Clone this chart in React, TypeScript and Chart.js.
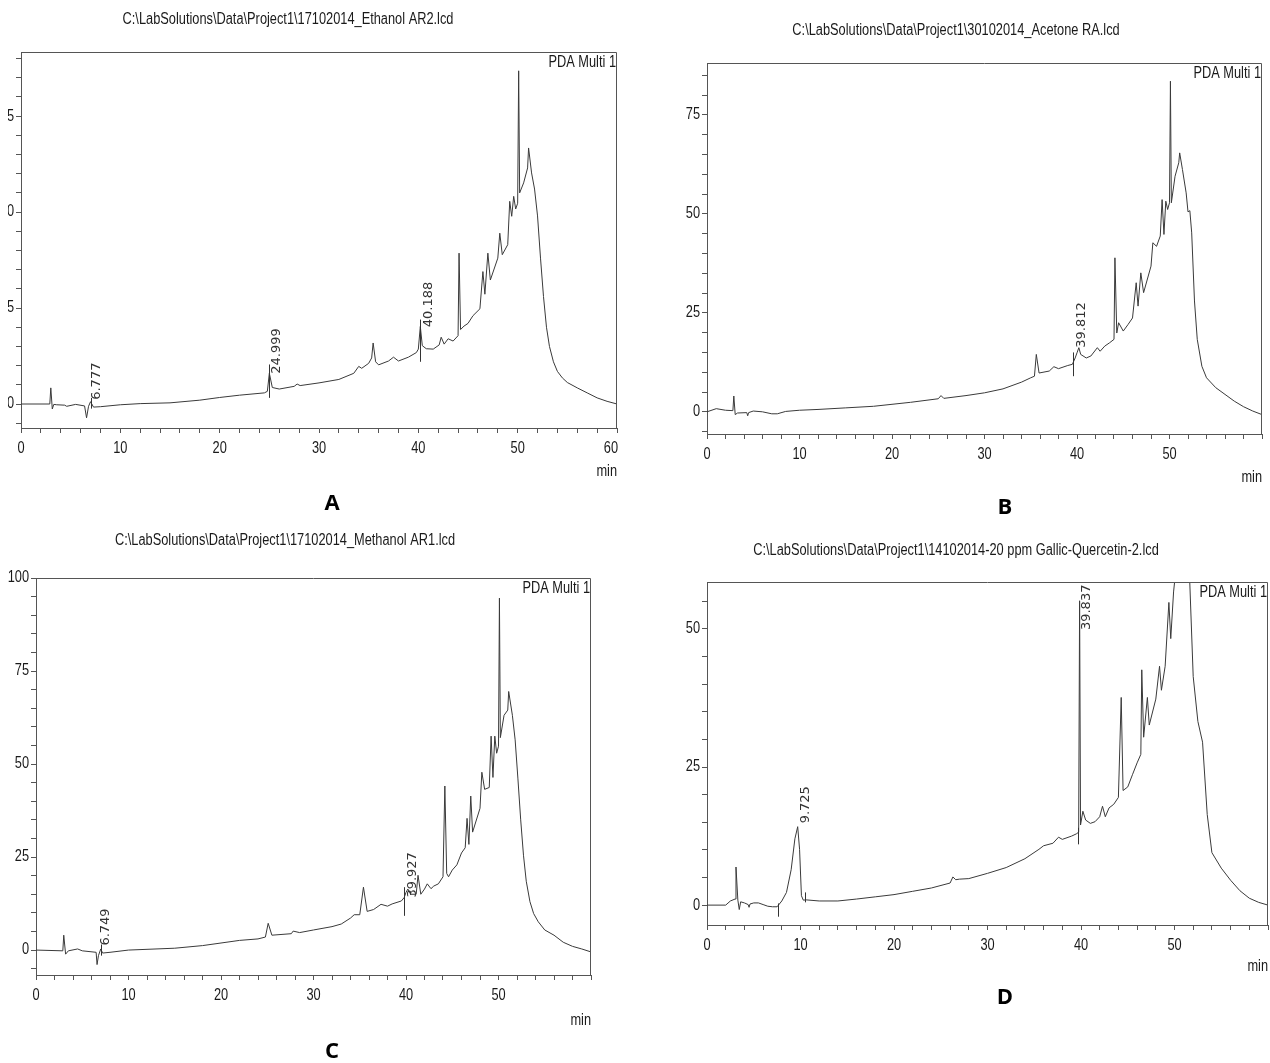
import React, { useEffect, useRef } from 'react';
import { Chart, registerables } from 'chart.js';

Chart.register(...registerables);

// ---------------- DATA ----------------
// Panel A – 17102014_Ethanol AR2
const ethanolTime = [0, 2.9, 3.0, 3.15, 3.3, 3.6, 4.4, 4.6, 5.5, 6.4, 6.6, 6.8, 7.0, 7.3, 8, 10, 12, 15, 18, 20, 22, 24.5, 24.8, 25.0, 25.3, 26, 27.5, 27.8, 28.1, 30, 32, 33.5, 34.0, 34.3, 35, 35.3, 35.45, 35.7, 36, 37, 37.5, 38, 39, 39.8, 40.0, 40.2, 40.4, 40.8, 41.5, 42.1, 42.3, 42.6, 43, 43.5, 44, 44.1, 44.25, 44.6, 45, 45.5, 46.2, 46.5, 46.7, 47.0, 47.25, 48, 48.2, 48.45, 49, 49.2, 49.4, 49.6, 49.8, 50.0, 50.1, 50.2, 50.6, 51, 51.1, 51.4, 51.7, 52.0, 52.3, 52.6, 52.9, 53.2, 53.6, 54.0, 54.5, 55, 56, 57, 58, 59, 60];
const ethanolSignal = [0, 0, 4.2, -1.3, -0.1, -0.2, -0.3, -0.6, -0.1, -0.5, -3.6, -0.6, 0.6, -0.8, -0.7, -0.2, 0.1, 0.3, 1.0, 1.7, 2.3, 2.9, 3.3, 8.0, 4.3, 3.9, 4.6, 5.2, 4.8, 5.5, 6.4, 8.0, 9.8, 9.3, 10.6, 12.0, 15.9, 11.0, 10.2, 11.2, 12.2, 11.2, 12.2, 13.4, 14.3, 20.2, 15.2, 14.4, 14.3, 15.4, 17.4, 15.6, 17.0, 16.4, 17.8, 39.3, 19.4, 20.3, 21.0, 23.0, 24.8, 34.5, 28.6, 39.3, 32.3, 38.0, 44.5, 38.9, 41.5, 52.8, 48.9, 54.1, 50.8, 52.3, 86.8, 55.0, 57.6, 61.5, 66.7, 60.2, 56.0, 49.0, 38.0, 28.0, 20.0, 15.0, 11.0, 8.5, 6.8, 5.6, 4.2, 2.9, 1.6, 0.7, 0.0];

// Panel B – 30102014_Acetone RA
const acetoneTime = [0, 1, 2, 2.8, 2.9, 3.05, 3.3, 4.3, 4.4, 4.5, 5, 6, 7, 7.6, 8.5, 10, 12, 15, 18, 20, 22, 25, 25.3, 25.6, 28, 30, 32, 34, 35, 35.4, 35.6, 35.9, 37, 37.5, 38, 39, 39.5, 39.8, 40.0, 40.2, 40.4, 41, 41.5, 42.2, 42.5, 43, 43.5, 44, 44.1, 44.3, 44.5, 45, 45.5, 46, 46.4, 46.6, 46.9, 47.2, 48, 48.2, 48.6, 49, 49.2, 49.4, 49.6, 49.8, 50.0, 50.1, 50.2, 50.6, 51, 51.1, 51.4, 51.8, 52, 52.2, 52.4, 52.7, 53, 53.5, 54, 55, 56, 57, 58, 59, 60];
const acetoneSignal = [0, 0.8, 0.4, 0.3, 4.0, -0.7, -0.3, -0.2, -1.0, -0.2, 0.2, 0, -0.5, -0.5, 0.1, 0.4, 0.6, 1.0, 1.4, 1.9, 2.4, 3.3, 4.1, 3.4, 4.1, 4.8, 5.8, 7.5, 8.6, 9.0, 14.5, 9.8, 10.3, 11.4, 10.9, 11.7, 12.0, 13.6, 14.9, 16.2, 14.5, 13.6, 14.1, 16.2, 15.3, 16.6, 17.4, 18.3, 38.9, 19.9, 22.5, 20.4, 22.0, 23.7, 32.6, 26.7, 35.1, 30.1, 36.8, 42.7, 41.8, 44.4, 53.6, 44.8, 53.2, 51.1, 52.8, 83.5, 52.8, 59.5, 62.9, 65.4, 61.2, 55.3, 50.5, 50.8, 45.2, 28.0, 18.3, 11.5, 8.6, 6.1, 4.4, 2.7, 1.3, 0.2, -0.7];

// Panel C – 17102014_Methanol AR1
const methanolTime = [0, 2.9, 3.0, 3.2, 3.5, 4.5, 5, 6.5, 6.6, 6.75, 7.0, 7.2, 8, 10, 15, 18, 20, 22, 24, 24.8, 25.1, 25.5, 27.6, 27.8, 28.5, 30, 32, 33, 34, 34.4, 35, 35.4, 35.8, 36.5, 37.3, 38, 38.5, 39.5, 39.8, 40.0, 40.2, 40.5, 41.1, 41.3, 41.6, 42, 42.3, 42.7, 43, 43.5, 44, 44.2, 44.4, 44.6, 45, 45.5, 46.0, 46.4, 46.6, 46.8, 47.0, 47.2, 48, 48.2, 48.5, 49, 49.2, 49.4, 49.6, 49.8, 50.0, 50.1, 50.2, 50.6, 51, 51.1, 51.5, 51.8, 52.1, 52.4, 52.7, 53.0, 53.4, 53.8, 54.3, 55, 56, 57, 58, 59, 60];
const methanolSignal = [0, -0.2, 4.0, -1.1, -0.2, 0.3, -0.2, -0.6, -3.9, -1.5, 0.3, -0.8, -0.6, 0, 0.5, 1.2, 1.9, 2.6, 3.0, 3.5, 7.2, 4.0, 4.4, 5.1, 4.7, 5.4, 6.3, 7.0, 8.6, 9.5, 9.5, 16.9, 10.4, 10.9, 12.3, 11.8, 12.4, 13.2, 14.1, 15.5, 16.4, 15.0, 15.0, 20.1, 15.0, 16.4, 17.8, 16.5, 17.2, 17.8, 19.7, 44.1, 20.6, 19.7, 21.5, 22.9, 26.1, 27.5, 35.4, 28.4, 41.4, 31.7, 38.1, 47.8, 43.2, 43.7, 57.5, 46.4, 57.5, 52.9, 54.8, 94.6, 57.1, 63.1, 64.5, 69.5, 63.1, 56.5, 46.0, 35.0, 25.5, 18.5, 13.0, 9.8, 7.6, 5.4, 4.0, 2.1, 1.0, 0.3, -0.5];

// Panel D – 14102014-20 ppm Gallic-Quercetin-2
const standardTime = [0, 2, 2.5, 3.0, 3.1, 3.3, 3.45, 3.6, 4, 4.4, 4.5, 4.6, 5, 5.5, 6, 6.5, 7, 7.5, 8, 8.5, 9, 9.4, 9.7, 9.9, 10.1, 10.3, 10.6, 12, 14, 16, 18, 20, 22, 24, 26, 26.3, 26.6, 27, 28, 30, 32, 34, 35.5, 36, 37, 37.6, 38, 39, 39.5, 39.75, 39.85, 39.95, 40.2, 40.5, 41, 41.5, 42, 42.3, 42.6, 43, 43.5, 44, 44.3, 44.5, 45, 45.5, 46, 46.4, 46.5, 46.7, 47.1, 47.3, 48, 48.4, 48.6, 49, 49.4, 49.6, 49.9, 50.1, 50.6, 51.0, 51.4, 51.6, 52, 52.5, 53, 53.5, 54, 55, 56, 57, 58, 59, 60];
const standardSignal = [0, 0, 0.75, 1.1, 6.9, 0.9, -0.8, 0.6, 0.4, 0.1, -0.4, 0.2, 0.4, 0.4, 0.1, -0.2, -0.3, -0.3, 0.75, 2.3, 6.4, 12.0, 14.2, 10.1, 1.7, 0.9, 0.95, 0.75, 0.75, 1.1, 1.5, 1.9, 2.5, 3.1, 4.0, 5.1, 4.6, 4.7, 4.8, 5.75, 6.8, 8.4, 10.1, 10.75, 11.2, 12.3, 11.9, 12.5, 12.9, 13.2, 55.1, 14.5, 17.0, 15.4, 14.8, 15.1, 16.0, 17.9, 16.0, 17.6, 18.25, 19.5, 37.6, 20.75, 21.4, 23.6, 25.75, 27.3, 42.6, 30.4, 37.6, 32.6, 37.3, 43.25, 38.9, 43.25, 54.8, 48.25, 56.7, 60.0, 68.0, 72.0, 66.0, 60.0, 41.4, 33.25, 29.5, 16.4, 9.5, 6.7, 4.5, 2.6, 1.25, 0.5, 0];

// Tick values
const xTickValues = [0, 2, 4, 6, 8, 10, 12, 14, 16, 18, 20, 22, 24, 26, 28, 30, 32, 34, 36, 38, 40, 42, 44, 46, 48, 50, 52, 54, 56, 58, 60];
const yTicksA = [-5, 0, 5, 10, 15, 20, 25, 30, 35, 40, 45, 50, 55, 60, 65, 70, 75, 80, 85, 90];
const yTicksB = [-5, 0, 5, 10, 15, 20, 25, 30, 35, 40, 45, 50, 55, 60, 65, 70, 75, 80, 85];
const yTicksC = [-5, 0, 5, 10, 15, 20, 25, 30, 35, 40, 45, 50, 55, 60, 65, 70, 75, 80, 85, 90, 95, 100];
const yTicksD = [0, 5, 10, 15, 20, 25, 30, 35, 40, 45, 50, 55];

// Peak annotations (retention time labels)
const peaksA = [
  { text: '6.777', t: 7.6, v: 1.1 },
  { text: '24.999', t: 25.7, v: 7.9 },
  { text: '40.188', t: 41.0, v: 20.0 },
];
const peaksB = [{ text: '39.812', t: 40.5, v: 16.2 }];
const peaksC = [
  { text: '6.749', t: 7.5, v: 1.2 },
  { text: '39.927', t: 40.7, v: 14.1 },
];
const peaksD = [
  { text: '9.725', t: 10.5, v: 14.8 },
  { text: '39.837', t: 40.6, v: 49.8 },
];
// Integration markers (time, low, high)
const markersA = [
  { t: 7.0, lo: -1.2, hi: 1.6 },
  { t: 25.0, lo: 1.6, hi: 10.3 },
  { t: 40.2, lo: 11.0, hi: 22.0 },
];
const markersB = [{ t: 39.6, lo: 9.0, hi: 15.0 }];
const markersC = [
  { t: 7.0, lo: -1.5, hi: 1.5 },
  { t: 39.8, lo: 9.2, hi: 16.9 },
];
const markersD = [
  { t: 7.6, lo: -2.1, hi: 0.3 },
  { t: 10.5, lo: 0.5, hi: 2.3 },
  { t: 39.7, lo: 11.0, hi: 14.0 },
];

// ---------------- STYLE ----------------
const SANS = '"Liberation Sans", Arial, sans-serif';
const PEAKFONT = '"DejaVu Sans", sans-serif';
const NARROW_SCALE = 0.8;
const LINE = '#3a3a3a';
const AXIS = '#555555';
const TEXT = '#1a1a1a';

type Peak = { text: string; t: number; v: number };
type Marker = { t: number; lo: number; hi: number };
type PanelCfg = {
  left: number; top: number; width: number; height: number;
  area: { left: number; top: number; right: number; bottom: number };
  yMin: number; yMax: number; yTicks: number[];
  xLabelMax: number;
  time: number[]; signal: number[];
  title: string; titleX: number; titleY: number;
  minY: number;
  letter: string; letterX: number; letterY: number;
  peaks: Peak[]; markers: Marker[];
};

const panels: PanelCfg[] = [
  {
    left: 8, top: 0, width: 632, height: 520,
    area: { left: 21, top: 52, right: 617, bottom: 428 },
    yMin: -6.25, yMax: 91.7, yTicks: yTicksA, xLabelMax: 60,
    time: ethanolTime, signal: ethanolSignal,
    title: 'C:\\LabSolutions\\Data\\Project1\\17102014_Ethanol AR2.lcd', titleX: 288, titleY: 20,
    minY: 472, letter: 'A', letterX: 332, letterY: 504,
    peaks: peaksA, markers: markersA,
  },
  {
    left: 640, top: 0, width: 630, height: 520,
    area: { left: 707, top: 63, right: 1262, bottom: 434 },
    yMin: -5.6, yMax: 88.1, yTicks: yTicksB, xLabelMax: 50,
    time: acetoneTime, signal: acetoneSignal,
    title: 'C:\\LabSolutions\\Data\\Project1\\30102014_Acetone RA.lcd', titleX: 956, titleY: 31,
    minY: 478, letter: 'B', letterX: 1005, letterY: 508,
    peaks: peaksB, markers: markersB,
  },
  {
    left: 8, top: 520, width: 632, height: 543,
    area: { left: 36, top: 578, right: 591, bottom: 975 },
    yMin: -6.7, yMax: 100, yTicks: yTicksC, xLabelMax: 50,
    time: methanolTime, signal: methanolSignal,
    title: 'C:\\LabSolutions\\Data\\Project1\\17102014_Methanol AR1.lcd', titleX: 285, titleY: 541,
    minY: 1021, letter: 'C', letterX: 332, letterY: 1052,
    peaks: peaksC, markers: markersC,
  },
  {
    left: 640, top: 520, width: 630, height: 543,
    area: { left: 707, top: 582, right: 1268, bottom: 925 },
    yMin: -3.6, yMax: 58.5, yTicks: yTicksD, xLabelMax: 50,
    time: standardTime, signal: standardSignal,
    title: 'C:\\LabSolutions\\Data\\Project1\\14102014-20 ppm Gallic-Quercetin-2.lcd', titleX: 956, titleY: 551,
    minY: 967, letter: 'D', letterX: 1005, letterY: 998,
    peaks: peaksD, markers: markersD,
  },
];

function narrowText(
  ctx: CanvasRenderingContext2D,
  text: string,
  x: number,
  y: number,
  align: CanvasTextAlign,
  baseline: CanvasTextBaseline,
  size: number,
) {
  ctx.save();
  ctx.translate(x, y);
  ctx.scale(NARROW_SCALE, 1);
  ctx.font = `${size}px ${SANS}`;
  ctx.textAlign = align;
  ctx.textBaseline = baseline;
  ctx.fillText(text, 0, 0);
  ctx.restore();
}

function Chromatogram({ cfg }: { cfg: PanelCfg }) {
  const ref = useRef<HTMLCanvasElement | null>(null);
  useEffect(() => {
    const canvas = ref.current;
    if (!canvas) return;
    const yw = cfg.area.left - cfg.left;
    const xh = cfg.top + cfg.height - cfg.area.bottom;
    const padTop = cfg.area.top - cfg.top;
    const padRight = cfg.left + cfg.width - cfg.area.right;

    const decor = {
      id: 'decor',
      afterDraw(chart: any) {
        const ctx = chart.ctx as CanvasRenderingContext2D;
        const ca = chart.chartArea;
        const xs = chart.scales.x;
        const ys = chart.scales.y;
        ctx.save();
        // frame (top and right)
        ctx.strokeStyle = AXIS;
        ctx.lineWidth = 1;
        ctx.beginPath();
        ctx.moveTo(Math.round(ca.left) + 0.5, Math.round(ca.top) + 0.5);
        ctx.lineTo(Math.round(ca.right) - 0.5, Math.round(ca.top) + 0.5);
        ctx.lineTo(Math.round(ca.right) - 0.5, Math.round(ca.bottom) + 0.5);
        ctx.stroke();
        // integration markers
        ctx.strokeStyle = '#333';
        for (const m of cfg.markers) {
          const x = Math.round(xs.getPixelForValue(m.t)) + 0.5;
          ctx.beginPath();
          ctx.moveTo(x, ys.getPixelForValue(m.lo));
          ctx.lineTo(x, ys.getPixelForValue(m.hi));
          ctx.stroke();
        }
        // peak labels (rotated)
        ctx.fillStyle = '#333';
        ctx.font = `13px ${PEAKFONT}`;
        for (const p of cfg.peaks) {
          const x = xs.getPixelForValue(p.t);
          const y = ys.getPixelForValue(p.v);
          ctx.save();
          ctx.translate(x, y);
          ctx.rotate(-Math.PI / 2);
          ctx.textAlign = 'left';
          ctx.textBaseline = 'middle';
          ctx.fillText(p.text, 0, 0);
          ctx.restore();
        }
        // axis tick labels
        ctx.fillStyle = TEXT;
        for (const v of xTickValues) {
          if (v % 10 !== 0 || v > cfg.xLabelMax) continue;
          const px = xs.getPixelForValue(v);
          const align: CanvasTextAlign = v === 60 ? 'right' : 'center';
          narrowText(ctx, String(v), v === 60 ? px + 1 : px, ca.bottom + 13, align, 'top', 16);
        }
        for (const v of cfg.yTicks) {
          if (v % 25 !== 0) continue;
          narrowText(ctx, String(v), ca.left - 7, ys.getPixelForValue(v), 'right', 'middle', 16);
        }
        // texts
        narrowText(ctx, cfg.title, cfg.titleX - cfg.left, cfg.titleY - cfg.top, 'center', 'middle', 16);
        narrowText(ctx, 'PDA Multi 1', ca.right - 1, ca.top + 11, 'right', 'middle', 16);
        narrowText(ctx, 'min', ca.right, cfg.minY - cfg.top, 'right', 'middle', 16);
        ctx.fillStyle = '#000';
        ctx.font = `bold 22px "Open Sans", "Liberation Sans", sans-serif`;
        ctx.textAlign = 'center';
        ctx.textBaseline = 'middle';
        ctx.fillText(cfg.letter, cfg.letterX - cfg.left, cfg.letterY - cfg.top);
        ctx.restore();
      },
    };

    const chart = new Chart(canvas, {
      type: 'line',
      data: {
        datasets: [
          {
            data: cfg.time.map((t, i) => ({ x: t, y: cfg.signal[i] })),
            borderColor: LINE,
            borderWidth: 1,
            pointRadius: 0,
            tension: 0,
            fill: false,
          },
        ],
      },
      options: {
        animation: false,
        responsive: false,
        maintainAspectRatio: false,
        devicePixelRatio: 1,
        events: [],
        layout: { padding: { top: padTop, right: padRight, left: 0, bottom: 0 }, autoPadding: false },
        plugins: { legend: { display: false }, tooltip: { enabled: false }, title: { display: false } },
        scales: {
          x: {
            type: 'linear',
            min: 0,
            max: 60,
            afterBuildTicks: (s: any) => {
              s.ticks = xTickValues.map((v) => ({ value: v }));
            },
            afterFit: (s: any) => {
              s.height = xh;
            },
            ticks: { display: false, autoSkip: false, maxRotation: 0 },
            grid: { drawOnChartArea: false, drawTicks: true, tickLength: 5, color: AXIS },
            border: { display: true, color: AXIS, width: 1 },
          },
          y: {
            type: 'linear',
            min: cfg.yMin,
            max: cfg.yMax,
            afterBuildTicks: (s: any) => {
              s.ticks = cfg.yTicks.map((v) => ({ value: v }));
            },
            afterFit: (s: any) => {
              s.width = yw;
            },
            ticks: { display: false, autoSkip: false },
            grid: { drawOnChartArea: false, drawTicks: true, tickLength: 5, color: AXIS },
            border: { display: true, color: AXIS, width: 1 },
          },
        },
      },
      plugins: [decor],
    } as any);
    return () => chart.destroy();
  }, [cfg]);
  return (
    <canvas
      ref={ref}
      width={cfg.width}
      height={cfg.height}
      style={{ position: 'absolute', left: cfg.left, top: cfg.top, width: cfg.width, height: cfg.height }}
    />
  );
}

export default function App() {
  return (
    <div
      style={{
        position: 'absolute',
        left: 0,
        top: 0,
        width: 1270,
        height: 1063,
        overflow: 'hidden',
        background: '#ffffff',
      }}
    >
      {panels.map((p) => (
        <Chromatogram key={p.letter} cfg={p} />
      ))}
    </div>
  );
}
